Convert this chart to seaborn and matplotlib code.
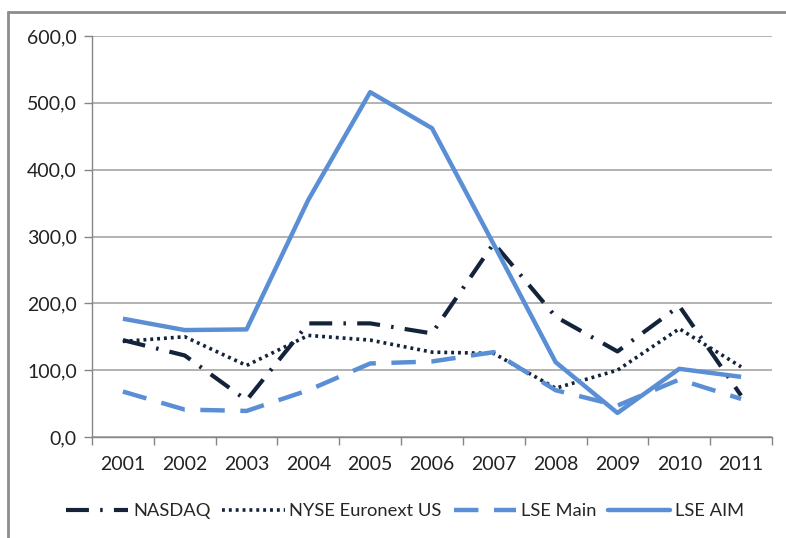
import matplotlib
matplotlib.use("Agg")
import matplotlib.pyplot as plt
from matplotlib.lines import Line2D
from matplotlib.ticker import FixedLocator, FuncFormatter
import seaborn as sns
import pandas as pd
import numpy as np

years = ["2001", "2002", "2003", "2004", "2005", "2006", "2007", "2008", "2009", "2010", "2011"]
nasdaq = [145, 122, 55, 170, 170, 155, 290, 180, 128, 196, 62]
nyse = [143, 150, 107, 152, 145, 127, 125, 73, 100, 162, 105]
lse_main = [68, 41, 39, 70, 110, 113, 127, 70, 47, 86, 57]
lse_aim = [177, 160, 161, 355, 516, 462, 288, 112, 36, 102, 90]

series_names = ["NASDAQ", "NYSE Euronext US", "LSE Main", "LSE AIM"]
series_vals = [nasdaq, nyse, lse_main, lse_aim]

rows = []
for name, vals in zip(series_names, series_vals):
    for i, v in enumerate(vals):
        rows.append({"idx": i, "value": v, "series": name})
df = pd.DataFrame(rows)

sns.set_theme(style="white")
plt.rcParams["font.family"] = ["Lato", "DejaVu Sans"]

dark = "#13233a"
blue = "#5a8fd6"
palette = {"NASDAQ": dark, "NYSE Euronext US": dark, "LSE Main": blue, "LSE AIM": blue}
dashes = {"NASDAQ": (5.5, 2.7, 0.6, 2.7), "NYSE Euronext US": (0.8, 1.1),
          "LSE Main": (5.5, 3.5), "LSE AIM": ""}
widths = {"NASDAQ": 3.0, "NYSE Euronext US": 2.6, "LSE Main": 3.2, "LSE AIM": 3.2}

fig = plt.figure(figsize=(7.86, 5.38), dpi=100)
ax = fig.add_axes([92/786, 1-437/538, (772-92)/786, (437-36)/538])

sns.lineplot(data=df, x="idx", y="value", hue="series", style="series",
             palette=palette, dashes=dashes, hue_order=series_names,
             style_order=series_names, ax=ax, legend=False, sort=False)
for line, name in zip(ax.get_lines(), series_names):
    line.set_linewidth(widths[name])
    line.set_dash_capstyle("butt")
    line.set_solid_capstyle("butt")

ax.set_xlim(-0.5, 10.5)
ax.set_ylim(0, 600)
ax.set_yticks(np.arange(0, 601, 100))
ax.yaxis.set_major_formatter(FuncFormatter(lambda v, p: f"{v:.1f}".replace(".", ",")))
ax.set_xticks(range(len(years)))
ax.set_xticklabels(years)
ax.xaxis.set_minor_locator(FixedLocator(np.arange(-0.5, 11, 1)))
ax.tick_params(axis="x", which="major", length=0, pad=14, labelsize=14, colors="#222222")
ax.tick_params(axis="x", which="minor", length=6, width=1, color="#868686", direction="out", bottom=True)
ax.tick_params(axis="y", which="major", length=6, width=1, color="#868686", direction="out", left=True,
               labelsize=14, colors="#222222", pad=5)
ax.set_xlabel("")
ax.set_ylabel("")
ax.grid(axis="y", color="#a6a6a6", linewidth=1.2)
ax.grid(axis="x", visible=False)
for s in ["top", "right"]:
    ax.spines[s].set_visible(False)
for s in ["left", "bottom"]:
    ax.spines[s].set_color("#868686")
    ax.spines[s].set_linewidth(1)
ax.set_axisbelow(True)

handles = []
for name in series_names:
    d = dashes[name]
    h = Line2D([], [], color=palette[name], linewidth=widths[name],
               linestyle=(0, d) if d else "-", dash_capstyle="butt")
    handles.append(h)
fig.legend(handles, series_names, loc="center", bbox_to_anchor=(405/786, 1-511/538),
           ncol=4, frameon=False, fontsize=13.2, handlelength=3.4, handletextpad=0.25,
           columnspacing=0.65)

# outer chart border (top and left)
fig.add_artist(Line2D([8/786, 1.0], [1-12/538, 1-12/538], transform=fig.transFigure,
                      color="#8c8c8c", linewidth=2))
fig.add_artist(Line2D([8/786, 8/786], [0.0, 1-12/538], transform=fig.transFigure,
                      color="#8c8c8c", linewidth=2))

fig.savefig("out.png", dpi=100)
